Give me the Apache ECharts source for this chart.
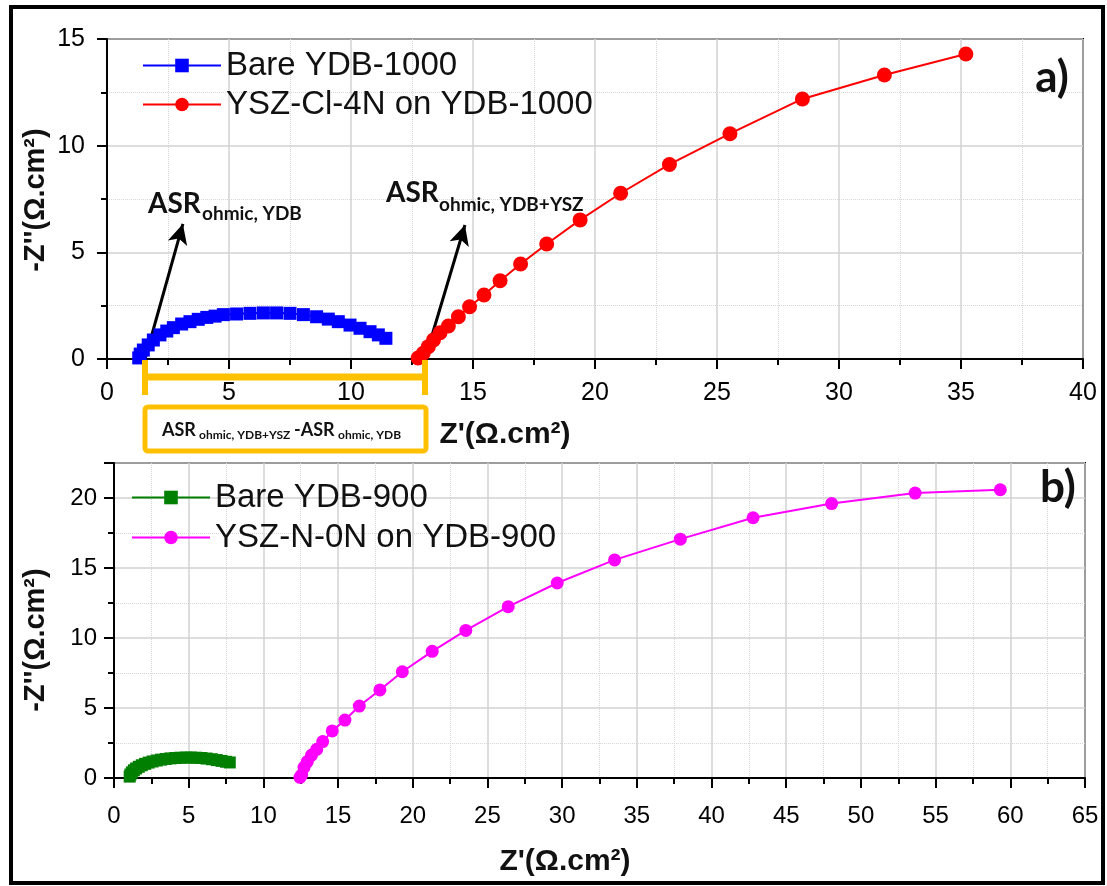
<!DOCTYPE html>
<html>
<head>
<meta charset="utf-8">
<script src="https://cdn.jsdelivr.net/npm/echarts@6/dist/echarts.min.js"></script>
<style>
  html, body { margin: 0; padding: 0; background: #fff; }
  #chart { width: 1107px; height: 886px; }
</style>
</head>
<body>
<div id="chart"></div>
<script>
// panel a) — YDB-1000
const bareYdb1000 = [
  [1.30, 0.05], [1.36, 0.23], [1.49, 0.42], [1.69, 0.66], [1.90, 0.89], [2.17, 1.13],
  [2.45, 1.31], [2.72, 1.47], [3.06, 1.64], [3.40, 1.75], [3.74, 1.86], [4.09, 1.95],
  [4.43, 2.01], [4.77, 2.08], [5.31, 2.11], [5.86, 2.14], [6.41, 2.16], [6.95, 2.16],
  [7.50, 2.14], [8.05, 2.08], [8.59, 1.98], [9.07, 1.87], [9.48, 1.75], [9.96, 1.59],
  [10.37, 1.44], [10.78, 1.28], [11.12, 1.13], [11.43, 0.97]
];
const yszCl4n = [
  [12.75, 0.05], [12.96, 0.27], [13.17, 0.58], [13.38, 0.89], [13.65, 1.23], [13.99, 1.55],
  [14.40, 1.98], [14.86, 2.45], [15.45, 3.00], [16.11, 3.67], [16.95, 4.45], [18.02, 5.39],
  [19.39, 6.52], [21.05, 7.77], [23.05, 9.12], [25.53, 10.56], [28.50, 12.19],
  [31.86, 13.31], [35.20, 14.30]
];

// panel b) — YDB-900
const bareYdb900 = [
  [1.05, 0.10], [1.10, 0.25], [1.20, 0.40], [1.33, 0.55], [1.48, 0.68], [1.66, 0.80],
  [1.86, 0.91], [2.08, 1.01], [2.32, 1.10], [2.58, 1.18], [2.86, 1.25], [3.15, 1.31],
  [3.46, 1.36], [3.78, 1.40], [4.11, 1.43], [4.45, 1.45], [4.80, 1.46], [5.15, 1.46],
  [5.50, 1.45], [5.85, 1.43], [6.20, 1.39], [6.55, 1.34], [6.88, 1.28], [7.20, 1.22],
  [7.50, 1.16], [7.75, 1.11]
];
const yszN0n = [
  [12.45, 0.05], [12.56, 0.21], [12.72, 0.76], [12.94, 1.17], [13.23, 1.64], [13.57, 2.05],
  [13.97, 2.60], [14.61, 3.36], [15.46, 4.14], [16.42, 5.14], [17.80, 6.29], [19.30, 7.59],
  [21.30, 9.05], [23.55, 10.54], [26.39, 12.24], [29.67, 13.93], [33.51, 15.58],
  [37.91, 17.06], [42.78, 18.59], [48.04, 19.60], [53.63, 20.35], [59.33, 20.59]
];

// arrows: [start, tip] in data units of panel a)
const arrowYdb = [[1.56, 0.0], [3.11, 6.33]];
const arrowYdbYsz = [[13.03, 0.0], [14.67, 6.28]];

const namesA = ['Bare YDB-1000', 'YSZ-Cl-4N on YDB-1000'];
const namesB = ['Bare YDB-900', 'YSZ-N-0N on YDB-900'];

const ORANGE = '#FFC000';
const ARIAL = 'Liberation Sans';
const CALIBRI = 'Lato';

function xAx(grid, max, fs, margin) {
  return {
    gridIndex: grid, type: 'value', min: 0, max: max, interval: 5,
    axisLine: { onZero: false, lineStyle: { color: '#000', width: 2 } },
    axisTick: { length: 10, lineStyle: { color: '#000', width: 2 } },
    minorTick: { show: true, splitNumber: 2, length: 6, lineStyle: { color: '#000', width: 2 } },
    splitLine: { show: true, lineStyle: { color: '#d2d2d2', width: 1.5 } },
    minorSplitLine: { show: true, lineStyle: { color: '#d6d6d6', width: 1, type: 'dotted' } },
    axisLabel: { fontSize: fs, color: '#000', margin: margin, fontFamily: ARIAL, showMaxLabel: true }
  };
}
function yAx(grid, max, fs, margin) {
  const a = xAx(grid, max, fs, margin);
  a.axisLabel.showMaxLabel = (max % 5 === 0);
  return a;
}

function lineSeries(name, data, color, symbol, size, xi) {
  return {
    name: name, type: 'line', xAxisIndex: xi, yAxisIndex: xi, data: data,
    symbol: symbol, symbolSize: size, showAllSymbol: true,
    lineStyle: { color: color, width: 2 },
    itemStyle: { color: color },
    z: 5
  };
}

const chart = echarts.init(document.getElementById('chart'));

const blue = lineSeries(namesA[0], bareYdb1000, '#0000FF', 'rect', 13, 0);
blue.markLine = {
  silent: true,
  symbol: ['none', 'arrow'],
  symbolSize: [15, 20],
  label: { show: false },
  lineStyle: { color: '#000', width: 3, type: 'solid' },
  data: [
    [{ coord: arrowYdb[0] }, { coord: arrowYdb[1] }],
    [{ coord: arrowYdbYsz[0] }, { coord: arrowYdbYsz[1] }]
  ]
};

function txt(x, y, s, size, font, extra) {
  return {
    type: 'text', x: x, y: y, z: 100,
    style: Object.assign({
      text: s, fontSize: size, fontFamily: font, fontWeight: 'bold', fill: '#111',
      align: 'left', verticalAlign: 'middle'
    }, extra || {})
  };
}

const graphics = [
  // outer frame
  { type: 'rect', shape: { x: 11, y: 7, width: 1092, height: 876 }, z: 100,
    style: { fill: 'none', stroke: '#000', lineWidth: 4 } },
  // axis titles
  txt(505, 435, "Z'(Ω.cm²)", 30, ARIAL, { align: 'center' }),
  txt(565, 862, "Z'(Ω.cm²)", 30, ARIAL, { align: 'center' }),
  Object.assign(txt(36, 200, "-Z''(Ω.cm²)", 29, ARIAL, { align: 'center' }), { rotation: Math.PI / 2 }),
  Object.assign(txt(36, 640, "-Z''(Ω.cm²)", 29, ARIAL, { align: 'center' }), { rotation: Math.PI / 2 }),
  // panel labels
  txt(1052, 78, 'a)', 44, CALIBRI, { align: 'center' }),
  txt(1058, 488, 'b)', 44, CALIBRI, { align: 'center' }),
  // arrow labels
  txt(148, 204, 'ASR', 28, CALIBRI),
  txt(202, 214, 'ohmic, YDB', 19, CALIBRI),
  txt(386, 193, 'ASR', 28, CALIBRI),
  txt(439, 205, 'ohmic, YDB+YSZ', 19, CALIBRI),
  // orange bracket
  { type: 'polyline', z: 90, shape: { points: [[145, 360], [145, 395]] },
    style: { stroke: ORANGE, lineWidth: 6, fill: 'none' } },
  { type: 'polyline', z: 90, shape: { points: [[425, 360], [425, 395]] },
    style: { stroke: ORANGE, lineWidth: 6, fill: 'none' } },
  { type: 'polyline', z: 90, shape: { points: [[145, 377], [425, 377]] },
    style: { stroke: ORANGE, lineWidth: 7, fill: 'none' } },
  // orange box
  { type: 'rect', z: 90, shape: { x: 145, y: 407, width: 281, height: 44, r: 3 },
    style: { fill: '#fff', stroke: ORANGE, lineWidth: 5 } },
  txt(162, 430, 'ASR', 18, CALIBRI),
  txt(199, 435, 'ohmic, YDB+YSZ', 12, CALIBRI),
  txt(294, 430, '-ASR', 18, CALIBRI),
  txt(338, 435, 'ohmic, YDB', 12, CALIBRI)
];

const legendText = { fontSize: 33, fontFamily: ARIAL, color: '#111' };

chart.setOption({
  animation: false,
  backgroundColor: '#fff',
  grid: [
    { left: 107, top: 39, width: 976, height: 320, show: true, borderColor: '#000', borderWidth: 2 },
    { left: 114, top: 463, width: 971, height: 315, show: true, borderColor: '#000', borderWidth: 2 }
  ],
  xAxis: [xAx(0, 40, 25, 22), xAx(1, 65, 24, 26)],
  yAxis: [yAx(0, 15, 25, 22), yAx(1, 22.5, 24, 17)],
  legend: [
    { data: namesA, orient: 'vertical', left: 137, top: 44, itemWidth: 78, itemHeight: 17,
      itemGap: 6, textStyle: legendText },
    { data: namesB, orient: 'vertical', left: 126, top: 476, itemWidth: 78, itemHeight: 17,
      itemGap: 7, textStyle: legendText }
  ],
  series: [
    blue,
    lineSeries(namesA[1], yszCl4n, '#FF0000', 'circle', 15, 0),
    lineSeries(namesB[0], bareYdb900, '#007F00', 'rect', 12, 1),
    lineSeries(namesB[1], yszN0n, '#FF00FF', 'circle', 13, 1)
  ],
  graphic: graphics
});
</script>
</body>
</html>
